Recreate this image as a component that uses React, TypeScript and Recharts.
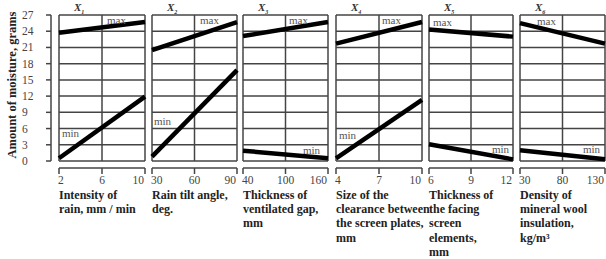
import React from 'react';
import { LineChart, Line, XAxis, YAxis, ReferenceLine } from 'recharts';

// ---- data ----
const yTicks = [0, 3, 6, 9, 12, 15, 18, 21, 24, 27];
const factorNames = ['1', '2', '3', '4', '5', '6'];

const xTicks1 = [2, 6, 10];
const xTicks2 = [30, 60, 90];
const xTicks3 = [40, 100, 160];
const xTicks4 = [4, 7, 10];
const xTicks5 = [6, 9, 12];
const xTicks6 = [30, 80, 130];

// values at the low and high end of each factor
const maxSeries1 = [23.7, 25.7];
const maxSeries2 = [20.5, 25.7];
const maxSeries3 = [23.1, 25.7];
const maxSeries4 = [21.7, 25.7];
const maxSeries5 = [24.3, 23.0];
const maxSeries6 = [25.5, 21.7];

const minSeries1 = [0.5, 11.9];
const minSeries2 = [0.8, 16.8];
const minSeries3 = [1.9, 0.5];
const minSeries4 = [0.5, 11.3];
const minSeries5 = [3.1, 0.3];
const minSeries6 = [2.0, 0.3];

const titles1 = ['Intensity of', 'rain, mm / min'];
const titles2 = ['Rain tilt angle,', 'deg.'];
const titles3 = ['Thickness of', 'ventilated gap,', 'mm'];
const titles4 = ['Size of the', 'clearance between', 'the screen plates,', 'mm'];
const titles5 = ['Thickness of', 'the facing', 'screen', 'elements,', 'mm'];
const titles6 = ['Density of', 'mineral wool', 'insulation,', 'kg/m³'];

const yTitle = 'Amount of moisture, grams';

const xTicksAll = [xTicks1, xTicks2, xTicks3, xTicks4, xTicks5, xTicks6];
const maxAll = [maxSeries1, maxSeries2, maxSeries3, maxSeries4, maxSeries5, maxSeries6];
const minAll = [minSeries1, minSeries2, minSeries3, minSeries4, minSeries5, minSeries6];
const titlesAll = [titles1, titles2, titles3, titles4, titles5, titles6];

// ---- layout (pixels) ----
const panelLeft = [59, 152, 243, 336, 429, 520];
const panelWidth = [86, 85, 85, 86, 84, 85];
const maxLabelPos = [[107, 20], [200, 20], [289, 20], [382, 20], [433, 22], [537, 21]];
const minLabelPos = [[62, 133], [154, 121], [303, 150], [339, 135], [492, 149], [583, 149]];

const FONT = '"Liberation Serif", "DejaVu Serif", serif';
const GRID = '#444';

function makeXTick(ticks: number[]) {
  return (props: any) => {
    const { x, y, payload, index } = props;
    const idx = index ?? ticks.indexOf(payload.value);
    const anchor = idx === 0 ? 'start' : idx === ticks.length - 1 ? 'end' : 'middle';
    const dx = idx === 0 ? -1 : idx === ticks.length - 1 ? -1 : 0;
    return (
      <text x={x + dx} y={y + 8} textAnchor={anchor} fontSize={11.5} fontFamily={FONT} fill="#444">
        {payload.value}
      </text>
    );
  };
}

function renderYTick(props: any) {
  const { x, y, payload } = props;
  return (
    <text x={x - 22} y={y} dy={4} textAnchor="start" fontSize={11.5} fontFamily={FONT} fill="#444">
      {payload.value}
    </text>
  );
}

// rows for the y-axis holder chart: spans the full 0..27 range
const axisRows = [
  { x: 0, v: yTicks[0] },
  { x: 1, v: yTicks[yTicks.length - 1] },
];

function Panel({ i }: { i: number }) {
  const ticks = xTicksAll[i];
  const data = [
    { x: ticks[0], max: maxAll[i][0], min: minAll[i][0] },
    { x: ticks[2], max: maxAll[i][1], min: minAll[i][1] },
  ];
  return (
    <div style={{ position: 'absolute', left: panelLeft[i] - 2, top: 0 }}>
      <LineChart width={panelWidth[i] + 4} height={200} data={data} margin={{ top: 15, right: 2, bottom: 0, left: 2 }}>
        <XAxis
          dataKey="x"
          type="number"
          domain={[ticks[0], ticks[2]]}
          ticks={ticks}
          interval={0}
          height={32}
          tickSize={6}
          tickLine={{ stroke: GRID, strokeWidth: 1.5 }}
          axisLine={{ stroke: GRID, strokeWidth: 1.5 }}
          tick={makeXTick(ticks)}
        />
        <YAxis hide type="number" domain={[-1.3, 27]} allowDataOverflow />
        {yTicks.map((v) => (
          <ReferenceLine key={'h' + v} y={v} stroke={GRID} strokeWidth={1.5} />
        ))}
        {ticks.map((v) => (
          <ReferenceLine key={'v' + v} segment={[{ x: v, y: 0 }, { x: v, y: 27 }]} stroke={GRID} strokeWidth={1.5} />
        ))}
        <Line dataKey="max" type="linear" stroke="#000" strokeWidth={4.5} dot={false} isAnimationActive={false} />
        <Line dataKey="min" type="linear" stroke="#000" strokeWidth={4.5} dot={false} isAnimationActive={false} />
      </LineChart>
    </div>
  );
}

export default function App() {
  return (
    <div style={{ position: 'absolute', left: 0, top: 0, width: 606, height: 259, background: '#fff', fontFamily: FONT, overflow: 'hidden' }}>
      <div style={{ position: 'absolute', left: 0, top: 0 }}>
        <LineChart width={56} height={200} data={axisRows} margin={{ top: 15, right: 2, bottom: 39, left: 0 }}>
          <XAxis dataKey="x" type="number" hide domain={[0, 1]} />
          <YAxis
            type="number"
            domain={[0, 27]}
            ticks={yTicks}
            interval={0}
            width={51}
            tickSize={5}
            tickLine={{ stroke: GRID, strokeWidth: 1.5 }}
            axisLine={{ stroke: GRID, strokeWidth: 1.5 }}
            tick={renderYTick}
          />
          <Line dataKey="v" stroke="none" strokeWidth={0} dot={false} isAnimationActive={false} />
        </LineChart>
      </div>
      <div
        style={{
          position: 'absolute',
          left: 12,
          top: 85,
          transform: 'translate(-50%, -50%) rotate(-90deg)',
          whiteSpace: 'nowrap',
          fontWeight: 'bold',
          fontSize: 12.5,
          color: '#222',
        }}
      >
        {yTitle}
      </div>
      {panelLeft.map((_, i) => (
        <Panel key={i} i={i} />
      ))}
      {panelLeft.map((l, i) => (
        <div
          key={'hd' + i}
          style={{ position: 'absolute', left: l + 15, top: 2, fontSize: 11, fontWeight: 'bold', fontStyle: 'italic', color: '#333', lineHeight: '11px' }}
        >
          X<sub style={{ fontSize: 6, lineHeight: '6px' }}>{factorNames[i]}</sub>
        </div>
      ))}
      {maxLabelPos.map((p, i) => (
        <div key={'mx' + i} style={{ position: 'absolute', left: p[0], top: p[1] - 5, fontSize: 11, color: '#555', lineHeight: '10px' }}>
          max
        </div>
      ))}
      {minLabelPos.map((p, i) => (
        <div key={'mn' + i} style={{ position: 'absolute', left: p[0], top: p[1] - 5, fontSize: 11, color: '#555', lineHeight: '10px' }}>
          min
        </div>
      ))}
      {titlesAll.map((lines, i) => (
        <div
          key={'t' + i}
          style={{ position: 'absolute', left: panelLeft[i], top: 188, fontSize: 12, fontWeight: 'bold', color: '#222', lineHeight: '14.2px', whiteSpace: 'nowrap' }}
        >
          {lines.map((s, k) => (
            <div key={k}>{s}</div>
          ))}
        </div>
      ))}
    </div>
  );
}
